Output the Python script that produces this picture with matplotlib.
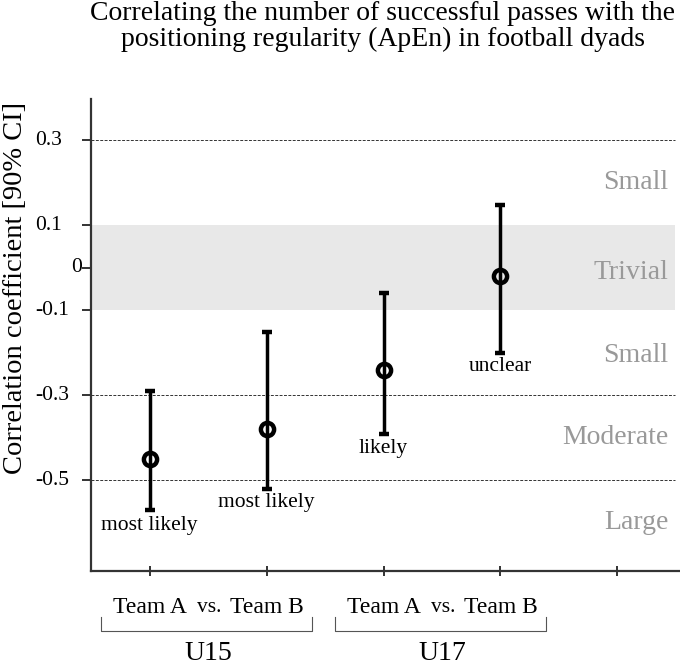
import numpy as np
import matplotlib
matplotlib.use('Agg')
import matplotlib.pyplot as plt

plt.rcParams['font.family'] = ['Liberation Serif', 'DejaVu Serif']

# data
positions = [1, 2, 3, 4]
means = [-0.45, -0.38, -0.24, -0.02]
ci_low = [-0.57, -0.52, -0.39, -0.20]
ci_high = [-0.29, -0.15, -0.06, 0.148]
inferences = ['most likely', 'most likely', 'likely', 'unclear']
label_y = [-0.605, -0.553, -0.424, -0.233]

yticks = [0.3, 0.1, 0, -0.1, -0.3, -0.5]
ytick_labels = ['0.3', '0.1', '0', '-0.1', '-0.3', '-0.5']
dashed_levels = [0.3, -0.3, -0.5]
zone_labels = ['Small', 'Trivial', 'Small', 'Moderate', 'Large']
zone_centres = [0.2, -0.01, -0.205, -0.4, -0.6]
groups = ['U15', 'U17']

fig = plt.figure(figsize=(6.8, 6.67), dpi=100)
ax = fig.add_axes([0.134, 0.144, 0.866, 0.708])
ax.set_xlim(0.5, 5.535)
ax.set_ylim(-0.713, 0.398)

# trivial band and threshold lines
band_end = 0.9915
ax.axhspan(-0.1, 0.1, xmax=band_end, color='#e8e8e8', zorder=0, lw=0)
for lvl in dashed_levels:
    ax.axhline(lvl, xmax=band_end, color='#333333', lw=0.7, ls=(0, (3, 1.5)), zorder=1)

means = np.array(means)
err = [means - np.array(ci_low), np.array(ci_high) - means]
ax.errorbar(positions, means, yerr=err, fmt='o', color='black', ecolor='black',
            elinewidth=2.5, capsize=3.3, capthick=2, ms=9.5, mfc='none',
            mec='black', mew=3.2, zorder=3)

# inference labels
for x, ly, txt in zip(positions, label_y, inferences):
    ax.text(x, ly, txt, ha='center', va='center', fontsize=15.5)

for lab, yc in zip(zone_labels, zone_centres):
    ax.text(5.436, yc, lab, ha='right', va='center', fontsize=20, color='#999999')

# y tick labels sit left-aligned, except the lone zero next to its tick
ax.set_yticks(yticks)
ax.set_yticklabels([])
ytrans = ax.get_yaxis_transform()
for v, lab in zip(yticks, ytick_labels):
    if lab == '0':
        ax.text(-0.016, v, lab, ha='right', va='center', fontsize=15.5, transform=ytrans)
    else:
        ax.text(-0.095, v, lab, ha='left', va='center', fontsize=15.5, transform=ytrans)

ax.set_xticks([1, 2, 3, 4, 5])
ax.set_xticklabels([])
ax.tick_params(axis='y', direction='out', length=6.5, width=1.4, color='#333333')
ax.tick_params(axis='x', direction='inout', length=6.5, width=1.4, color='#333333')
ax.spines['top'].set_visible(False)
ax.spines['right'].set_visible(False)
for side in ['left', 'bottom']:
    ax.spines[side].set_linewidth(1.6)
    ax.spines[side].set_color('#333333')

ax.set_ylabel('Correlation coefficient [90% CI]', fontsize=20.5, va='center')
ax.yaxis.set_label_coords(-0.129, 0.6)

# group labels beneath the axis
for g, (xa, xb) in enumerate([(1, 2), (3, 4)]):
    ax.text(xa, -0.80, 'Team A', ha='center', va='center', fontsize=17, clip_on=False)
    ax.text(xb, -0.80, 'Team B', ha='center', va='center', fontsize=17, clip_on=False)
    ax.text((xa + xb) / 2 + 0.01, -0.80, 'vs.', ha='center', va='center', fontsize=15.5, clip_on=False)
    left = xa - 0.415
    right = xb + 0.39
    ax.plot([left, left, right, right], [-0.821, -0.854, -0.854, -0.821],
            color='#555555', lw=0.8, clip_on=False)
    ax.text((xa + xb) / 2, -0.908, groups[g], ha='center', va='center', fontsize=20, clip_on=False)

fig.text(0.563, 0.96, 'Correlating the number of successful passes with the\n'
         'positioning regularity (ApEn) in football dyads',
         ha='center', va='center', fontsize=20, linespacing=1.05)

fig.savefig('out.png', dpi=100)
